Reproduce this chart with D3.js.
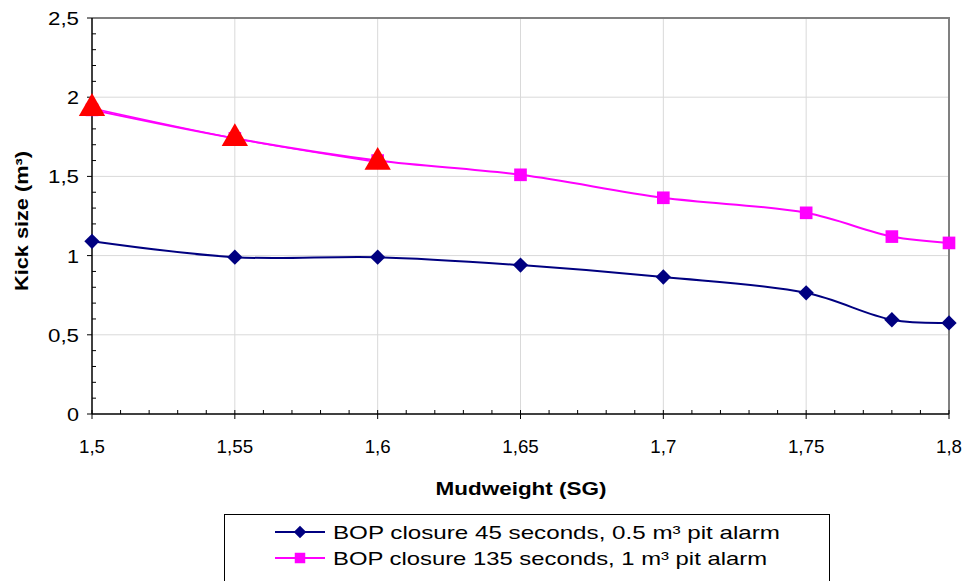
<!DOCTYPE html>
<html>
<head>
<meta charset="utf-8">
<script src="https://cdn.jsdelivr.net/npm/d3@7"></script>
<style>
  html, body { margin: 0; padding: 0; background: #fff; }
  svg { display: block; font-family: Arial, "Liberation Sans", sans-serif; }
</style>
</head>
<body>
<svg id="chart" width="966" height="581"></svg>
<script>
// Mud weight (SG) on the x axis
const mudweights = [1.5, 1.55, 1.6, 1.65, 1.7, 1.75, 1.78, 1.8];
// Kick size (m³) for each BOP closure case
const bop45 = [1.09, 0.99, 0.99, 0.94, 0.865, 0.765, 0.595, 0.575];
const bop135 = [1.92, 1.74, 1.60, 1.51, 1.365, 1.27, 1.12, 1.08];
// Highlighted points on the 135 s curve
const highlightX = [1.5, 1.55, 1.6];
const highlightY = [1.93, 1.74, 1.59];

const xTicks = [1.5, 1.55, 1.6, 1.65, 1.7, 1.75, 1.8];
const xTickLabels = ["1,5", "1,55", "1,6", "1,65", "1,7", "1,75", "1,8"];
const yTicks = [0, 0.5, 1, 1.5, 2, 2.5];
const yTickLabels = ["0", "0,5", "1", "1,5", "2", "2,5"];

const seriesNames = [
  "BOP closure 45 seconds, 0.5 m\u00B3 pit alarm",
  "BOP closure 135 seconds, 1 m\u00B3 pit alarm"
];

const svg = d3.select("#chart");
const plotL = 92, plotR = 949, plotT = 18, plotB = 414;

const x = d3.scaleLinear().domain([1.5, 1.8]).range([plotL, plotR]);
const y = d3.scaleLinear().domain([0, 2.5]).range([plotB, plotT]);

// set a label's drawn width from its digit and comma counts
function labelWidth(s, digitW, commaW) {
  let w = 0;
  for (const c of s) w += (c === "," ? commaW : digitW);
  return w;
}
function fitTo(sel, w) {
  sel.attr("textLength", w).attr("lengthAdjust", "spacingAndGlyphs");
}

// gridlines
const grid = svg.append("g");
grid.selectAll("line.h").data(yTicks.slice(1, -1)).join("line")
  .attr("x1", plotL).attr("x2", plotR)
  .attr("y1", d => y(d)).attr("y2", d => y(d))
  .attr("stroke", "#d9d9d9").attr("stroke-width", 1);
grid.selectAll("line.v").data(xTicks.slice(1, -1)).join("line")
  .attr("x1", d => x(d)).attr("x2", d => x(d))
  .attr("y1", plotT).attr("y2", plotB)
  .attr("stroke", "#d9d9d9").attr("stroke-width", 1);

// plot area border (top and right)
svg.append("path")
  .attr("d", `M${plotL},${plotT}H${plotR}V${plotB}`)
  .attr("fill", "none").attr("stroke", "#808080").attr("stroke-width", 2);

// y axis
const yAxis = svg.append("g");
yAxis.append("line").attr("x1", plotL).attr("x2", plotL).attr("y1", plotT).attr("y2", plotB)
  .attr("stroke", "#000").attr("stroke-width", 1.5);
const yMinor = d3.range(0, 26).map(i => i * 0.1).filter((v, i) => i % 5 !== 0);
yAxis.selectAll("line.minor").data(yMinor).join("line")
  .attr("x1", plotL).attr("x2", plotL + 4)
  .attr("y1", d => y(d)).attr("y2", d => y(d))
  .attr("stroke", "#000");
yAxis.selectAll("line.major").data(yTicks).join("line")
  .attr("x1", plotL - 5).attr("x2", plotL)
  .attr("y1", d => y(d)).attr("y2", d => y(d))
  .attr("stroke", "#000");
yAxis.selectAll("text").data(yTicks).join("text")
  .attr("x", 79).attr("y", d => y(d) + 7)
  .attr("text-anchor", "end").attr("font-size", 19)
  .text((d, i) => yTickLabels[i])
  .each(function (d, i) {
    d3.select(this).call(fitTo, labelWidth(yTickLabels[i], 12, 7));
  });

// x axis
const xAxis = svg.append("g");
xAxis.append("line").attr("x1", plotL).attr("x2", plotR).attr("y1", plotB).attr("y2", plotB)
  .attr("stroke", "#000").attr("stroke-width", 1.5);
const xMinor = d3.range(0, 31).map(i => 1.5 + i * 0.01).filter((v, i) => i % 5 !== 0);
xAxis.selectAll("line.minor").data(xMinor).join("line")
  .attr("x1", d => x(d)).attr("x2", d => x(d))
  .attr("y1", plotB - 4).attr("y2", plotB)
  .attr("stroke", "#000");
xAxis.selectAll("line.major").data(xTicks).join("line")
  .attr("x1", d => x(d)).attr("x2", d => x(d))
  .attr("y1", plotB - 4).attr("y2", plotB + 5)
  .attr("stroke", "#000");
xAxis.selectAll("text").data(xTicks).join("text")
  .attr("x", d => x(d)).attr("y", 453)
  .attr("text-anchor", "middle").attr("font-size", 19)
  .text((d, i) => xTickLabels[i])
  .each(function (d, i) {
    d3.select(this).call(fitTo, labelWidth(xTickLabels[i], 10.5, 5));
  });

// axis titles
svg.append("text").attr("x", 521).attr("y", 495)
  .attr("text-anchor", "middle").attr("font-size", 18).attr("font-weight", "bold")
  .text("Mudweight (SG)").call(fitTo, 171);
svg.append("text")
  .attr("transform", "translate(28,221) rotate(-90)")
  .attr("text-anchor", "middle").attr("font-size", 18).attr("font-weight", "bold")
  .text("Kick size (m\u00B3)").call(fitTo, 140);

// series lines
const line = d3.line()
  .x(d => x(d[0])).y(d => y(d[1]))
  .curve(d3.curveCatmullRom.alpha(0.5));

const data45 = mudweights.map((m, i) => [m, bop45[i]]);
const data135 = mudweights.map((m, i) => [m, bop135[i]]);
const dataHi = highlightX.map((m, i) => [m, highlightY[i]]);

svg.append("path").datum(data45).attr("d", line)
  .attr("fill", "none").attr("stroke", "#000080").attr("stroke-width", 2);
svg.append("path").datum(data135).attr("d", line)
  .attr("fill", "none").attr("stroke", "#ff00ff").attr("stroke-width", 2);
svg.append("path").datum(dataHi).attr("d", line)
  .attr("fill", "none").attr("stroke", "#ff00ff").attr("stroke-width", 1.5);

// markers
const diamond = d3.symbol().type(d3.symbolDiamond2).size(150);
const square = d3.symbol().type(d3.symbolSquare).size(160);
const triangle = d3.symbol().type(d3.symbolTriangle).size(300);

svg.append("g").selectAll("path").data(data45).join("path")
  .attr("transform", d => `translate(${x(d[0])},${y(d[1])})`)
  .attr("d", diamond).attr("fill", "#000080");
svg.append("g").selectAll("path").data(data135).join("path")
  .attr("transform", d => `translate(${x(d[0])},${y(d[1])})`)
  .attr("d", square).attr("fill", "#ff00ff");
svg.append("g").selectAll("path").data(dataHi).join("path")
  .attr("transform", d => `translate(${x(d[0])},${y(d[1])})`)
  .attr("d", triangle).attr("fill", "#ff0000");

// legend
const legend = svg.append("g");
legend.append("rect").attr("x", 224.5).attr("y", 514.5).attr("width", 605).attr("height", 80)
  .attr("fill", "#fff").attr("stroke", "#000").attr("stroke-width", 1);
const legendItems = [
  { color: "#000080", sym: d3.symbol().type(d3.symbolDiamond2).size(100), y: 532, w: 447 },
  { color: "#ff00ff", sym: d3.symbol().type(d3.symbolSquare).size(110), y: 558, w: 434 }
];
legendItems.forEach((it, i) => {
  legend.append("line").attr("x1", 275).attr("x2", 325).attr("y1", it.y).attr("y2", it.y)
    .attr("stroke", it.color).attr("stroke-width", 2);
  legend.append("path").attr("transform", `translate(300,${it.y})`)
    .attr("d", it.sym).attr("fill", it.color);
  legend.append("text").attr("x", 333).attr("y", it.y + 7)
    .attr("font-size", 19).text(seriesNames[i]).call(fitTo, it.w);
});
</script>
</body>
</html>
